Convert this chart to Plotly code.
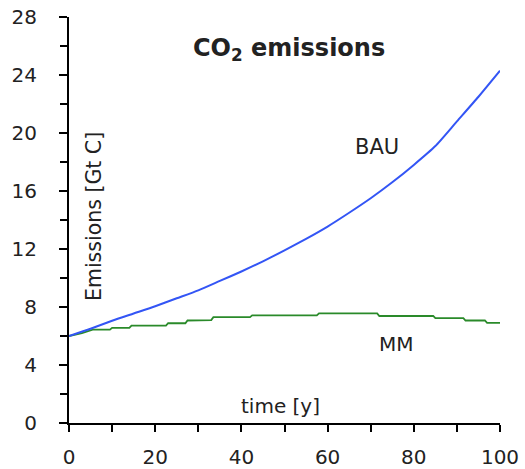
import plotly.graph_objects as go

# Data
bau_t = [0, 5, 10, 15, 20, 25, 30, 35, 40, 45, 50, 55, 60, 65, 70, 75, 80, 85, 90, 95, 100]
bau_v = [6.0, 6.5, 7.05, 7.55, 8.05, 8.6, 9.15, 9.8, 10.45, 11.15, 11.9, 12.7, 13.55, 14.5,
         15.5, 16.6, 17.8, 19.1, 20.8, 22.5, 24.3]

mm_t = [0, 3, 5.5, 9.5, 10, 14, 14.5, 22.5, 23, 27, 27.5, 33, 33.5, 42, 42.5, 57.5, 58,
        71.5, 72, 84.5, 85, 91.5, 92, 96.5, 97, 100]
mm_v = [6.0, 6.2, 6.44, 6.44, 6.56, 6.56, 6.72, 6.72, 6.88, 6.88, 7.07, 7.1, 7.3, 7.3,
        7.42, 7.42, 7.56, 7.56, 7.38, 7.38, 7.23, 7.23, 7.07, 7.07, 6.91, 6.91]

x_ticks = [0, 20, 40, 60, 80, 100]
y_ticks = [0, 4, 8, 12, 16, 20, 24, 28]

FONT = "DejaVu Sans"
TXT = "#222222"

fig = go.Figure()
fig.add_trace(go.Scatter(x=mm_t, y=mm_v, mode="lines",
                         line=dict(color="#2a8a2a", width=1.8), name="MM"))
fig.add_trace(go.Scatter(x=bau_t, y=bau_v, mode="lines",
                         line=dict(color="#3355f5", width=2, shape="spline", smoothing=0.6),
                         name="BAU"))

axis_common = dict(showline=True, linecolor="black", linewidth=2, showgrid=False,
                   zeroline=False, ticks="outside", tickcolor="black", tickwidth=1.5,
                   automargin=False,
                   tickfont=dict(family=FONT, size=20, color=TXT))

fig.update_xaxes(range=[0, 100], tickvals=x_ticks, ticklen=7,
                 minor=dict(dtick=10, ticks="outside", ticklen=7, tickcolor="black",
                            tickwidth=1.5, showgrid=False),
                 ticklabelstandoff=8, **axis_common)
fig.update_yaxes(range=[0, 28], tickvals=y_ticks, ticklen=8,
                 minor=dict(dtick=2, ticks="outside", ticklen=7, tickcolor="black",
                            tickwidth=1.5, showgrid=False),
                 ticklabelstandoff=18, **axis_common)

annotations = [
    dict(text="<b>CO<sub>2</sub> emissions</b>", x=289, y=49, size=24),
    dict(text="BAU", x=377, y=147, size=21),
    dict(text="MM", x=396, y=344, size=20),
    dict(text="time [y]", x=280, y=406, size=20),
    dict(text="Emissions [Gt C]", x=94, y=217, size=20.5, angle=-90),
]
for a in annotations:
    fig.add_annotation(text=a["text"], xref="paper", yref="paper",
                       x=(a["x"] - 69) / 431, y=(423 - a["y"]) / 406,
                       xanchor="center", yanchor="middle", showarrow=False,
                       textangle=a.get("angle", 0),
                       font=dict(family=FONT, color=TXT, size=a["size"]))

fig.update_layout(width=525, height=469, showlegend=False,
                  margin=dict(l=69, r=25, t=17, b=46, autoexpand=False),
                  plot_bgcolor="white", paper_bgcolor="white")

fig.write_html("out.html", config={"displayModeBar": False},
               post_script="document.body.style.margin='0px';document.body.style.padding='0px';")
